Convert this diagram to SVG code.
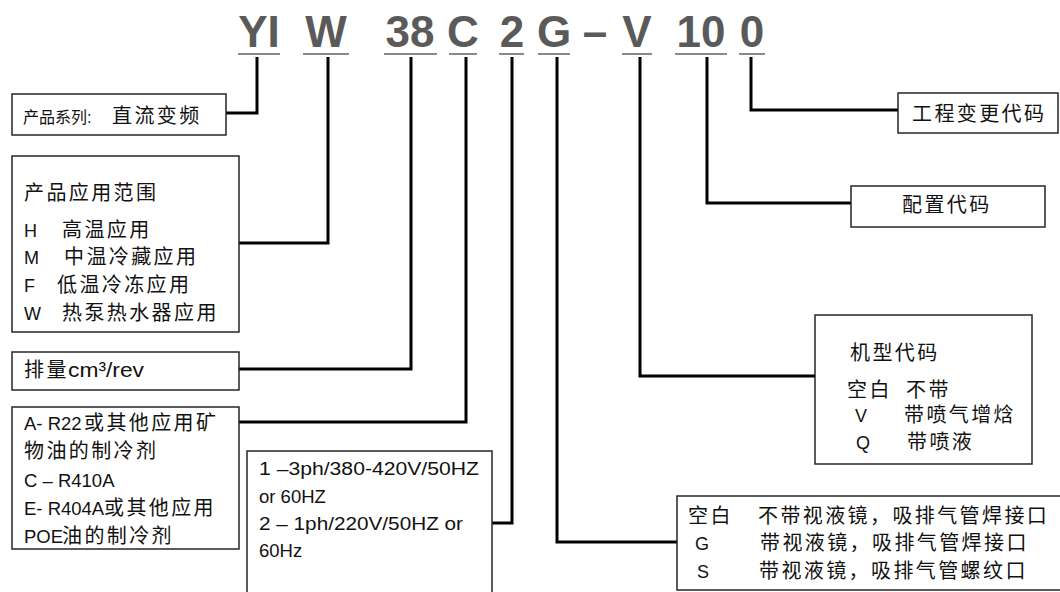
<svg xmlns="http://www.w3.org/2000/svg" width="1060" height="592" viewBox="0 0 1060 592">
<style>
.bg{fill:#fff}
.box{fill:#fff;stroke:#262626;stroke-width:1.5}
.conn{fill:none;stroke:#000;stroke-width:3;stroke-linejoin:miter}
.ul{stroke:#8a8a8a;stroke-width:2}
.code{font-family:"Liberation Sans","Noto Sans CJK SC",sans-serif;font-weight:bold;font-size:44px;fill:#5a5a5a;text-anchor:middle}
.t{font-family:"Liberation Sans","Noto Sans CJK SC",sans-serif;font-size:20px;fill:#111;letter-spacing:2.4px}
.l{font-family:"Liberation Sans","Noto Sans CJK SC",sans-serif;font-size:18px;fill:#111}
.m{font-family:"Liberation Sans","Noto Sans CJK SC",sans-serif;font-size:18.5px;fill:#111}
.s{font-family:"Liberation Sans","Noto Sans CJK SC",sans-serif;font-size:16px;fill:#111}
</style>
<rect class="bg" width="1060" height="592"/>
<g id="code">
<text class="code" x="259" y="47">YI</text>
<text class="code" x="326" y="47">W</text>
<text class="code" x="410" y="47">38</text>
<text class="code" x="463" y="47">C</text>
<text class="code" x="512" y="47">2</text>
<text class="code" x="554" y="47">G</text>
<text class="code" x="595" y="47">–</text>
<text class="code" x="637" y="47">V</text>
<text class="code" x="701" y="47">10</text>
<text class="code" x="752" y="47">0</text>
<line class="ul" x1="238" y1="54" x2="280" y2="54"/>
<line class="ul" x1="303" y1="54" x2="349" y2="54"/>
<line class="ul" x1="384" y1="54" x2="437" y2="54"/>
<line class="ul" x1="449" y1="54" x2="477" y2="54"/>
<line class="ul" x1="499" y1="54" x2="524" y2="54"/>
<line class="ul" x1="538" y1="54" x2="570" y2="54"/>
<line class="ul" x1="622" y1="54" x2="652" y2="54"/>
<line class="ul" x1="675" y1="54" x2="727" y2="54"/>
<line class="ul" x1="739" y1="54" x2="765" y2="54"/>
</g>
<g id="connectors">
<polyline class="conn" points="257,57 257,113 226,113"/>
<polyline class="conn" points="328,57 328,243 239,243"/>
<polyline class="conn" points="411,57 411,369 239,369"/>
<polyline class="conn" points="466,57 466,422 239,422"/>
<polyline class="conn" points="512,57 512,523 492,523"/>
<polyline class="conn" points="557,57 557,542 677,542"/>
<polyline class="conn" points="640,57 640,376 815,376"/>
<polyline class="conn" points="707,57 707,203 852,203"/>
<polyline class="conn" points="751,57 751,110 898,110"/>
</g>
<g id="series">
<rect class="box" x="12" y="94" width="214" height="41"/>
<text class="s" x="23" y="123">产品系列:</text>
<text class="t" x="112" y="123">直流变频</text>
</g>
<g id="application">
<rect class="box" x="12" y="156" width="227" height="176"/>
<text class="t" x="24" y="200">产品应用范围</text>
<text class="l" x="24" y="237">H</text><text class="t" x="62" y="237">高温应用</text>
<text class="l" x="24" y="264">M</text><text class="t" x="64" y="264">中温冷藏应用</text>
<text class="l" x="24" y="292">F</text><text class="t" x="57" y="292">低温冷冻应用</text>
<text class="l" x="24" y="320">W</text><text class="t" x="62" y="320">热泵热水器应用</text>
</g>
<g id="displacement">
<rect class="box" x="12" y="352" width="227" height="38"/>
<text class="t" x="24" y="377">排量</text>
<text class="m" x="68" y="377" style="font-size:20px" textLength="76" lengthAdjust="spacingAndGlyphs">cm³/rev</text>
</g>
<g id="refrigerant">
<rect class="box" x="12" y="407" width="227" height="142"/>
<text class="m" x="24" y="430">A- R22</text><text class="t" x="84" y="430">或其他应用矿</text>
<text class="t" x="24" y="458">物油的制冷剂</text>
<text class="m" x="24" y="487">C – R410A</text>
<text class="m" x="24" y="515">E- R404A</text><text class="t" x="104" y="515">或其他应用</text>
<text class="m" x="24" y="543">POE</text><text class="t" x="62" y="543">油的制冷剂</text>
</g>
<g id="power">
<rect class="box" x="247" y="451" width="245" height="160"/>
<text class="m" x="259" y="475" textLength="220" lengthAdjust="spacingAndGlyphs">1 –3ph/380-420V/50HZ</text>
<text class="m" x="259" y="503">or 60HZ</text>
<text class="m" x="259" y="530" textLength="204" lengthAdjust="spacingAndGlyphs">2 – 1ph/220V/50HZ or</text>
<text class="m" x="259" y="557">60Hz</text>
</g>
<g id="fitting">
<rect class="box" x="677" y="496" width="400" height="94"/>
<text class="t" x="688" y="523">空白</text><text class="t" x="758" y="523">不带视液镜，吸排气管焊接口</text>
<text class="l" x="695" y="550">G</text><text class="t" x="760" y="550">带视液镜，吸排气管焊接口</text>
<text class="l" x="697" y="578">S</text><text class="t" x="759" y="578">带视液镜，吸排气管螺纹口</text>
</g>
<g id="model">
<rect class="box" x="815" y="315" width="217" height="149"/>
<text class="t" x="850" y="360">机型代码</text>
<text class="t" x="847" y="397">空白</text><text class="t" x="906" y="397">不带</text>
<text class="l" x="855" y="422">V</text><text class="t" x="904" y="422">带喷气增焓</text>
<text class="l" x="856" y="449">Q</text><text class="t" x="907" y="449">带喷液</text>
</g>
<g id="config">
<rect class="box" x="851" y="186" width="194" height="41"/>
<text class="t" x="902" y="212">配置代码</text>
</g>
<g id="eco">
<rect class="box" x="898" y="93" width="160" height="40"/>
<text class="t" x="912" y="121">工程变更代码</text>
</g>
</svg>
